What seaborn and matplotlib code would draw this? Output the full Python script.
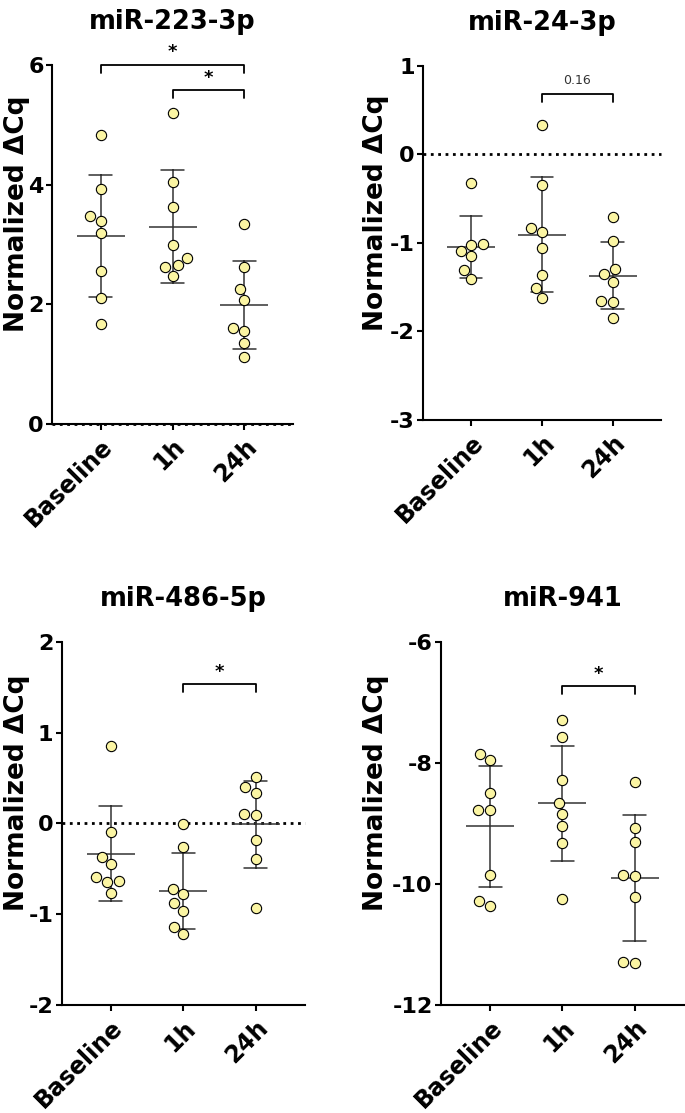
import numpy as np
import pandas as pd
import matplotlib
matplotlib.use("Agg")
import matplotlib.pyplot as plt
import seaborn as sns

sns.set_style("ticks")
plt.rcParams["font.family"] = ["DejaVu Sans"]
plt.rcParams["font.weight"] = "bold"
plt.rcParams["axes.unicode_minus"] = False
plt.rcParams["text.color"] = "black"
plt.rcParams["axes.labelcolor"] = "black"
plt.rcParams["xtick.color"] = "black"
plt.rcParams["ytick.color"] = "black"

groups = ["Baseline", "1h", "24h"]

# miR-223-3p
mir223_baseline = [4.83, 3.92, 3.48, 3.40, 3.19, 2.55, 2.10, 1.68]
mir223_1h = [5.20, 4.04, 3.62, 3.00, 2.77, 2.65, 2.63, 2.48]
mir223_24h = [3.34, 2.62, 2.25, 2.07, 1.61, 1.56, 1.35, 1.12]

# miR-24-3p
mir24_baseline = [-0.32, -1.01, -1.02, -1.09, -1.15, -1.31, -1.41]
mir24_1h = [0.33, -0.35, -0.83, -0.88, -1.06, -1.36, -1.51, -1.62]
mir24_24h = [-0.71, -0.98, -1.30, -1.35, -1.44, -1.66, -1.67, -1.85]

# miR-486-5p
mir486_baseline = [0.85, -0.09, -0.37, -0.45, -0.59, -0.63, -0.64, -0.76]
mir486_1h = [-0.01, -0.26, -0.72, -0.78, -0.88, -0.96, -1.14, -1.22]
mir486_24h = [0.51, 0.40, 0.34, 0.10, 0.09, -0.18, -0.39, -0.93]

# miR-941
mir941_baseline = [-7.85, -7.95, -8.50, -8.77, -8.78, -9.85, -10.28, -10.36]
mir941_1h = [-7.30, -7.58, -8.29, -8.67, -8.85, -9.04, -9.33, -10.25]
mir941_24h = [-8.31, -9.08, -9.30, -9.85, -9.87, -10.22, -11.28, -11.31]

titles = ["miR-223-3p", "miR-24-3p", "miR-486-5p", "miR-941"]
ylims = [(0, 6), (-3, 1), (-2, 2), (-12, -6)]
yticks = [[0, 2, 4, 6], [-3, -2, -1, 0, 1], [-2, -1, 0, 1, 2], [-12, -10, -8, -6]]

# confronti tra gruppi: (gruppo a, gruppo b, testo, altezza)
brackets = [
    [("Baseline", "24h", "*", 6.0), ("1h", "24h", "*", 5.58)],
    [("1h", "24h", "0.16", 0.68)],
    [("1h", "24h", "*", 1.53)],
    [("1h", "24h", "*", -6.74)],
]


def make_df(baseline, h1, h24):
    return pd.DataFrame({
        "time": ["Baseline"] * len(baseline) + ["1h"] * len(h1) + ["24h"] * len(h24),
        "value": baseline + h1 + h24,
    })


data = [
    make_df(mir223_baseline, mir223_1h, mir223_24h),
    make_df(mir24_baseline, mir24_1h, mir24_24h),
    make_df(mir486_baseline, mir486_1h, mir486_24h),
    make_df(mir941_baseline, mir941_1h, mir941_24h),
]

# posizione degli assi nella figura (left, bottom, width, height)
positions = [
    [0.0759, 0.619, 0.352, 0.3226],
    [0.6175, 0.6226, 0.3474, 0.3183],
    [0.090, 0.0968, 0.3552, 0.3267],
    [0.6438, 0.0968, 0.3547, 0.3267],
]
label_x = [-0.091, -0.143, -0.13, -0.214]

fig = plt.figure(figsize=(6.85, 11.13), dpi=100)

for i, df in enumerate(data):
    ax = fig.add_axes(positions[i])

    # media +/- deviazione standard
    sns.pointplot(data=df, x="time", y="value", order=groups, errorbar="sd",
                  capsize=0.32, color="#333333", markers="_", linestyles="none",
                  markersize=34, markeredgewidth=1.1, linewidth=1.1, ax=ax)
    # punti singoli
    sns.swarmplot(data=df, x="time", y="value", order=groups, color="#fbf5a3",
                  edgecolor="black", linewidth=0.8, size=7.4, ax=ax, zorder=3)

    ax.set_xlim(-0.68, 2.68)
    ax.set_ylim(*ylims[i])
    ax.set_yticks(yticks[i])
    if ylims[i][0] <= 0 <= ylims[i][1]:
        ax.axhline(0, ls=":", lw=2, color="black", zorder=1, clip_on=False)

    sns.despine(ax=ax)
    for s in ["left", "bottom"]:
        ax.spines[s].set_linewidth(1.5)
        ax.spines[s].set_color("black")
    ax.tick_params(axis="y", length=4, width=1.5, labelsize=16, pad=2, color="black")
    ax.tick_params(axis="x", length=4.5, width=1.5, labelsize=17, pad=3, color="black")
    plt.setp(ax.get_xticklabels(), rotation=45, ha="right", rotation_mode="anchor")

    ax.set_xlabel("")
    ax.set_ylabel("Normalized ΔCq", fontsize=19, fontweight="bold")
    ax.yaxis.set_label_coords(label_x[i], 0.585)
    ax.set_title(titles[i], fontsize=18.5, fontweight="bold", pad=26)

    yr = ylims[i][1] - ylims[i][0]
    for a, b, txt, h in brackets[i]:
        xa, xb = groups.index(a), groups.index(b)
        drop = 0.022 * yr
        ax.plot([xa, xa, xb, xb], [h - drop, h, h, h - drop], color="black",
                lw=1.3, clip_on=False)
        if txt == "*":
            ax.text((xa + xb) / 2, h + 0.01 * yr, txt, ha="center", va="bottom",
                    fontsize=13, fontweight="bold")
        else:
            ax.text((xa + xb) / 2, h + 0.02 * yr, txt, ha="center", va="bottom",
                    fontsize=9, fontweight="normal", color="#333333")

fig.savefig("out.png", dpi=100)
